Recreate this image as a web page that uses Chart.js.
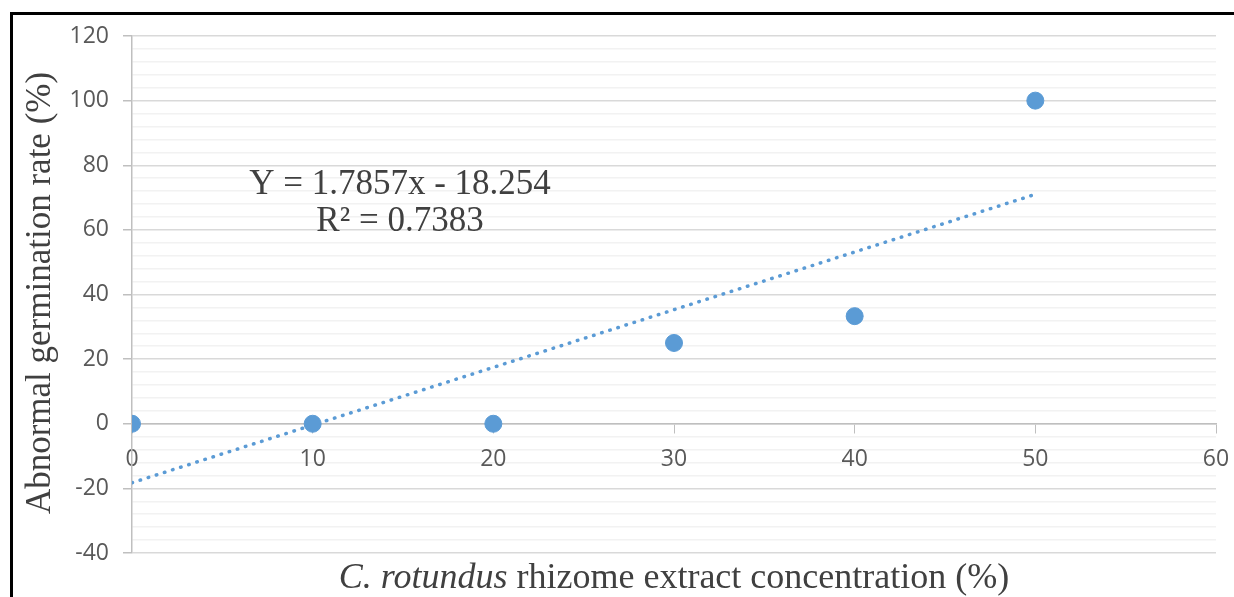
<!DOCTYPE html>
<html>
<head>
<meta charset="utf-8">
<script src="https://cdn.jsdelivr.net/npm/chart.js@4"></script>
<style>
  html, body { margin: 0; padding: 0; background: #fff; }
  #wrap { position: relative; width: 1234px; height: 597px; }
</style>
</head>
<body>
<div id="wrap"><canvas id="chart" width="1234" height="597"></canvas></div>
<script>
// data
const concentration = [0, 10, 20, 30, 40, 50];
const abnormalRate = [0, 0, 0, 25, 33.3, 100];
const trendX = [0, 50];
const trendY = [-18.25, 71.0];
const equationLines = ["Y = 1.7857x - 18.254", "R\u00b2 = 0.7383"];
const xTitleItalic = "C. rotundus";
const xTitleRest = " rhizome extract concentration (%)";
const yTitle = "Abnormal germination rate (%)";

const blue = "#5b9bd5";
const serif = "'Liberation Serif', 'Times New Roman', serif";

const textPlugin = {
  id: "texts",
  beforeDraw(chart) {
    const ctx = chart.ctx;
    ctx.save();
    ctx.fillStyle = "#000";
    ctx.fillRect(10, 12, 1224, 3);
    ctx.fillRect(10, 12, 3, 585);
    ctx.restore();
  },
  afterDraw(chart) {
    const ctx = chart.ctx;
    ctx.save();
    ctx.fillStyle = "#404040";
    ctx.textBaseline = "alphabetic";

    // equation of trendline
    ctx.font = "35px " + serif;
    ctx.textAlign = "center";
    ctx.fillText(equationLines[0], 400, 194);
    ctx.fillText(equationLines[1], 400, 231);

    // x axis title, part italic
    ctx.textAlign = "left";
    ctx.font = "italic 36px " + serif;
    const w1 = ctx.measureText(xTitleItalic).width;
    ctx.font = "36px " + serif;
    const w2 = ctx.measureText(xTitleRest).width;
    const startX = 674 - (w1 + w2) / 2;
    ctx.font = "italic 36px " + serif;
    ctx.fillText(xTitleItalic, startX, 588);
    ctx.font = "36px " + serif;
    ctx.fillText(xTitleRest, startX + w1, 588);

    // y axis title
    ctx.font = "35px " + serif;
    ctx.translate(50, 293);
    ctx.rotate(-Math.PI / 2);
    ctx.textAlign = "center";
    ctx.fillText(yTitle, 0, 0);
    ctx.restore();
  }
};

new Chart(document.getElementById("chart"), {
  type: "scatter",
  data: {
    datasets: [
      {
        label: "Abnormal germination",
        data: concentration.map((x, i) => ({ x: x, y: abnormalRate[i] })),
        backgroundColor: blue,
        borderColor: blue,
        pointRadius: 8.5,
        pointHoverRadius: 8.5
      },
      {
        label: "Linear trend",
        type: "line",
        data: trendX.map((x, i) => ({ x: x, y: trendY[i] })),
        borderColor: blue,
        borderWidth: 3.5,
        borderDash: [0.5, 8],
        borderCapStyle: "round",
        pointRadius: 0,
        fill: false
      }
    ]
  },
  options: {
    responsive: false,
    animation: false,
    layout: { padding: { left: 0, right: 18, top: 36, bottom: 44 } },
    plugins: {
      legend: { display: false },
      tooltip: { enabled: false }
    },
    scales: {
      x: {
        type: "linear",
        position: { y: 0 },
        min: 0,
        max: 60,
        afterFit(scale) { scale.paddingLeft = 0; scale.paddingRight = 0; },
        ticks: {
          stepSize: 10,
          color: "#595959",
          font: { family: "'Open Sans', sans-serif", size: 23 },
          padding: 13
        },
        grid: {
          drawOnChartArea: false,
          drawTicks: true,
          tickLength: 9,
          tickColor: "#bfbfbf"
        },
        border: { color: "#bfbfbf", width: 1.5 }
      },
      y: {
        type: "linear",
        position: "left",
        min: -40,
        max: 120,
        afterFit(scale) { scale.width = 132; scale.paddingTop = 0; scale.paddingBottom = 0; },
        ticks: {
          stepSize: 4,
          autoSkip: false,
          color: "#595959",
          font: { family: "'Open Sans', sans-serif", size: 23 },
          padding: 14,
          callback: (v) => (v % 20 === 0 ? v : "")
        },
        grid: {
          color: (c) => (c.tick && c.tick.value % 20 === 0 ? "#d9d9d9" : "#f2f2f2"),
          lineWidth: 1.5,
          tickLength: 9,
          tickColor: (c) => (c.tick && c.tick.value % 20 === 0 ? "#bfbfbf" : "rgba(0,0,0,0)")
        },
        border: { color: "#bfbfbf", width: 1.5 }
      }
    }
  },
  plugins: [textPlugin]
});
</script>
</body>
</html>
